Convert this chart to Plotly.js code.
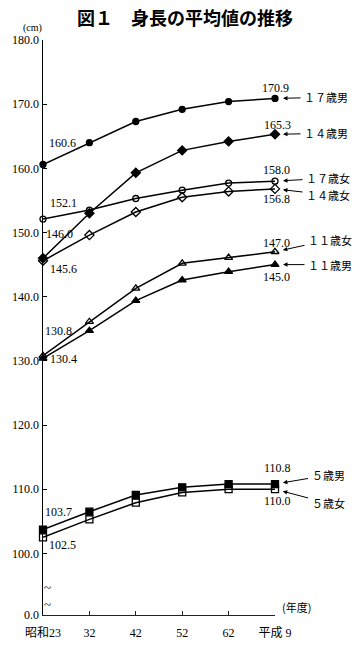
<!DOCTYPE html>
<html>
<head>
<meta charset="utf-8">
<script src="https://cdn.plot.ly/plotly-3.0.1.min.js"></script>
<style>html,body{margin:0;padding:0;background:#fff;}#chart{width:360px;height:650px;}</style>
</head>
<body>
<div id="chart"></div>
<script>
// ---- data ----
const years = ["昭和23", "32", "42", "52", "62", "平成 9"];
const yTickVals = [90.4, 100, 110, 120, 130, 140, 150, 160, 170, 180];
const yTickText = ["0.0", "100.0", "110.0", "120.0", "130.0", "140.0", "150.0", "160.0", "170.0", "180.0"];

const boy17  = [160.6, 164.0, 167.3, 169.2, 170.4, 170.9];
const boy14  = [146.0, 153.0, 159.3, 162.8, 164.2, 165.3];
const girl17 = [152.1, 153.5, 155.3, 156.6, 157.7, 158.0];
const girl14 = [145.6, 149.6, 153.2, 155.5, 156.4, 156.8];
const girl11 = [130.8, 136.1, 141.3, 145.2, 146.1, 147.0];
const boy11  = [130.4, 134.7, 139.4, 142.6, 143.9, 145.0];
const boy5   = [103.7, 106.5, 109.1, 110.3, 110.8, 110.8];
const girl5  = [102.5, 105.3, 107.9, 109.5, 110.0, 110.0];

const seriesNames = ["１７歳男", "１４歳男", "１７歳女", "１４歳女", "１１歳女", "１１歳男", "５歳男", "５歳女"];

// ---- styling ----
const numFont = {family: "Liberation Serif, serif", size: 12, color: "#000"};
const jpFont = {family: "Noto Sans CJK JP, sans-serif", size: 11, color: "#000"};

const series = [
  {y: boy17,  name: seriesNames[0], symbol: "circle",           size: 6, first: [19, 22],  last: [0, 10],  lab: [51, -1]},
  {y: boy14,  name: seriesNames[1], symbol: "diamond",          size: 7, first: [16, 24],  last: [2, 9],   lab: [51, -1]},
  {y: girl17, name: seriesNames[2], symbol: "circle-open",      size: 6, first: [20, 16],  last: [1, 11],  lab: [53, -3]},
  {y: girl14, name: seriesNames[3], symbol: "diamond-open",     size: 7, first: [20, -8],  last: [1, -10], lab: [53, 6]},
  {y: girl11, name: seriesNames[4], symbol: "triangle-up-open", size: 7, first: [15, 25],  last: [1, 9],   lab: [55, -12]},
  {y: boy11,  name: seriesNames[5], symbol: "triangle-up",      size: 7, first: [20, -1],  last: [1, -12], lab: [55, 0]},
  {y: boy5,   name: seriesNames[6], symbol: "square",           size: 7, first: [15, 18],  last: [2, 16],  lab: [53, -9]},
  {y: girl5,  name: seriesNames[7], symbol: "square-open",      size: 7, first: [19, -8],  last: [2, -12], lab: [53, 14]}
];

const traces = series.map(s => ({
  type: "scatter",
  mode: "lines+markers",
  x: years,
  y: s.y,
  name: s.name,
  cliponaxis: false,
  line: {color: "#000", width: 1.5},
  marker: {symbol: s.symbol, size: s.size, color: "#000", line: {color: "#000", width: 1.3}}
}));

const annotations = [];
series.forEach(s => {
  annotations.push({x: years[0], y: s.y[0], xref: "x", yref: "y", text: s.y[0].toFixed(1),
    showarrow: false, xshift: s.first[0], yshift: s.first[1], font: numFont});
  const n = s.y.length - 1;
  annotations.push({x: years[n], y: s.y[n], xref: "x", yref: "y", text: s.y[n].toFixed(1),
    showarrow: false, xshift: s.last[0], yshift: s.last[1], font: numFont});
  annotations.push({x: years[n], y: s.y[n], xref: "x", yref: "y", text: s.name,
    showarrow: true, axref: "pixel", ayref: "pixel", ax: s.lab[0], ay: s.lab[1],
    arrowhead: 2, arrowsize: 0.9, arrowwidth: 1, arrowcolor: "#000", standoff: 8, startstandoff: 2,
    font: jpFont});
});
// axis break mark
annotations.push({x: 0, y: 93.4, xref: "paper", yref: "y", text: "~<br>~", showarrow: false,
  bgcolor: "#fff", font: {family: "Liberation Serif, serif", size: 13, color: "#000"}, borderpad: 0});
// unit labels
annotations.push({x: -0.095, y: 1.035, xref: "paper", yref: "paper", text: "(cm)", showarrow: false,
  font: {family: "Liberation Serif, serif", size: 10, color: "#000"}});
annotations.push({x: 1.165, y: -0.003, xref: "paper", yref: "paper", text: "(年度)", showarrow: false,
  font: {family: "Noto Sans CJK JP, sans-serif", size: 11, color: "#000"}});

const layout = {
  width: 360, height: 650,
  margin: {l: 43, r: 85, t: 40, b: 35},
  paper_bgcolor: "#fff", plot_bgcolor: "#fff",
  font: {color: "#000"},
  showlegend: false,
  title: {text: "図１　身長の平均値の推移", x: 0.514, xref: "container", xanchor: "center",
    y: 0.972, yref: "container", yanchor: "middle",
    font: {family: "Noto Sans CJK JP, sans-serif", size: 18, color: "#000", weight: "bold"}},
  xaxis: {type: "category", range: [0, 5], showgrid: false, zeroline: false,
    showline: true, linecolor: "#222", linewidth: 1.2,
    ticks: "inside", ticklen: 4, tickcolor: "#222", ticklabelstandoff: 6,
    tickfont: {family: "Liberation Serif, Noto Sans CJK JP, serif", size: 12, color: "#000"}},
  yaxis: {range: [90.4, 180], showgrid: false, zeroline: false,
    showline: true, linecolor: "#000", linewidth: 1.5,
    ticks: "inside", ticklen: 4, tickcolor: "#000",
    tickvals: yTickVals, ticktext: yTickText,
    tickfont: numFont},
  annotations: annotations
};

Plotly.newPlot("chart", traces, layout, {staticPlot: true, displayModeBar: false});
</script>
</body>
</html>
